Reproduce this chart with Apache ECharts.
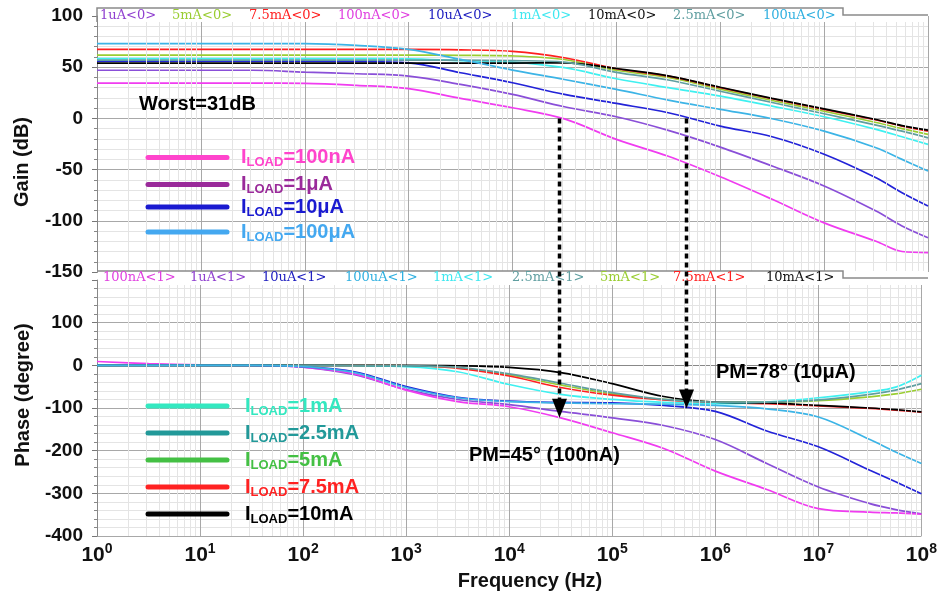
<!DOCTYPE html>
<html><head><meta charset="utf-8">
<script src="https://cdn.jsdelivr.net/npm/echarts@6/dist/echarts.min.js"></script>
<style>html,body{margin:0;padding:0;background:#fff}#c{width:940px;height:599px}</style>
</head><body><div id="c"></div>
<script>
// Frequency points (Hz)
const freqs = [1, 3.16, 10, 31.6, 100, 316, 1000, 3160, 1e4, 3.16e4, 1e5, 3.16e5, 1e6, 3.16e6, 1e7, 3.16e7, 5.62e7, 1e8];
// Gain (dB)
const gain100nA = [34.5,34.5,34.5,34.5,34.3,32.3,29,19.5,10.4,-0.5,-20.5,-37,-57,-79,-102,-120,-130,-131];
const gain1uA   = [47,47,47,47,45.2,43.6,41.3,33.2,23.4,11.4,1.6,-11.7,-28,-46.5,-66,-90.5,-105,-116.5];
const gain10uA  = [56,56,56,56,56,55.7,54.3,44.6,34.8,23.4,14.6,5.5,-7.5,-17.9,-35,-58,-72.6,-85.6];
const gain100uA = [73,73,73,73,73,71.3,67.4,57.6,47.2,38,28.3,17.9,8.8,-0.3,-12.4,-28.6,-40,-51.4];
const gain1mA   = [58.3,58.3,58.3,58.3,58.3,58.3,58.2,56.3,55,49.5,38.7,30,21.8,12,1.6,-10.7,-17.9,-25.4];
const gain2p5mA = [57,57,57,57,57,57,57,57,56.5,55,45,37.5,26.5,15.5,4.5,-6.5,-12.5,-19];
const gain5mA   = [61.8,61.8,61.8,61.8,61.8,61.8,61.8,61.6,61,57.5,47,40,28.5,17.5,7,-4,-10,-15.6];
const gain7p5mA = [67.4,67.4,67.4,67.4,67.4,67.4,67.4,67,65.5,59.2,48.5,41.3,30,19.2,8.8,-1.6,-7.5,-12.4];
const gain10mA  = [54,54,54,54,54,54,54,54,54,54.3,48.7,41.6,30.4,19.6,9.3,-1.1,-7,-11.5];
// Phase (degree)
const phase100nA = [9,4,1,0,-4,-20,-58,-85,-97,-123,-158,-195,-248,-291,-336,-344,-346,-349];
const phase1uA   = [1,0.5,0,0,-4,-22,-57,-80,-92,-108,-123,-141,-174,-230,-285,-324,-338,-348];
const phase10uA  = [0,0,0,0,-3,-15,-50,-75,-84,-87,-88,-94,-108,-154,-191,-246,-273,-301];
const phase100uA = [0,0,0,0,-3,-17,-52,-76,-85,-88,-90,-91,-94,-102,-121,-174,-203,-230];
const phase1mA   = [0,0,0,0,0,-1,-3,-15,-45,-68,-80,-87,-90,-86,-76,-62,-51,-23];
const phase2p5mA = [0,0,0,0,0,0,-1,-5,-20,-42,-64,-80,-86,-86,-81,-68,-58,-43];
const phase5mA   = [0,0,0,0,0,0,-1,-6,-22,-46,-67,-80,-86,-86.5,-83,-74,-67,-56];
const phase7p5mA = [0,0,0,0,0,0,-1,-7,-25,-52,-70,-81,-87,-90,-95,-101,-105,-110];
const phase10mA  = [0,0,0,0,0,0,0,-1,-5,-17,-43,-73,-86,-88,-94,-100,-104,-109];

// Axis ticks
const gainTicks = [-150, -100, -50, 0, 50, 100];
const phaseTicks = [-400, -300, -200, -100, 0, 100];
// PM arrows (frequency of 0 dB crossing, phase there)
const arrowFreq = [2.8e4, 4.67e5];
const arrowPhase = [-123, -101];

const loads = [
  {name:'1uA',   color:'#8a4fd8', gain:gain1uA,   phase:phase1uA},
  {name:'5mA',   color:'#9acd32', gain:gain5mA,   phase:phase5mA},
  {name:'7.5mA', color:'#ff2020', gain:gain7p5mA, phase:phase7p5mA},
  {name:'100nA', color:'#f03cf0', gain:gain100nA, phase:phase100nA},
  {name:'10uA',  color:'#2323d8', gain:gain10uA,  phase:phase10uA},
  {name:'1mA',   color:'#3ff0f0', gain:gain1mA,   phase:phase1mA},
  {name:'10mA',  color:'#000000', gain:gain10mA,  phase:phase10mA},
  {name:'2.5mA', color:'#5f9ea0', gain:gain2p5mA, phase:phase2p5mA},
  {name:'100uA', color:'#3cb4e6', gain:gain100uA, phase:phase100uA}
];

const topStrip = [
  ['1uA<0>',100,'#9040d0'],['5mA<0>',172,'#9acd32'],['7.5mA<0>',249,'#ff2020'],
  ['100nA<0>',338,'#e040e0'],['10uA<0>',428,'#2020c0'],['1mA<0>',511,'#40e8f0'],
  ['10mA<0>',588,'#111111'],['2.5mA<0>',673,'#5f9ea0'],['100uA<0>',763,'#30b0e0']
];
const botStrip = [
  ['100nA<1>',103,'#e040e0'],['1uA<1>',190,'#9040d0'],['10uA<1>',262,'#2020c0'],
  ['100uA<1>',345,'#30b0e0'],['1mA<1>',433,'#40e8f0'],['2.5mA<1>',512,'#5f9ea0'],
  ['5mA<1>',600,'#9acd32'],['7.5mA<1>',673,'#ff2020'],['10mA<1>',766,'#111111']
];
const legTop = [
  ['100nA','#ff44cc',157.5],['1\u03bcA','#9a2a9a',184.5],['10\u03bcA','#1a1ad0',207],['100\u03bcA','#44a8f0',232]
];
const legBot = [
  ['1mA','#33e8c0',406],['2.5mA','#229999',433],['5mA','#44c044',460],['7.5mA','#ff2222',487],['10mA','#000000',514]
];

const BOLD = 'Liberation Sans, Arial, sans-serif';
const chart = echarts.init(document.getElementById('c'), null, {renderer:'canvas'});

// minor log grid positions
const minorX = [];
for (let n = 0; n < 8; n++) for (let k = 2; k <= 9; k++) minorX.push({xAxis: k * Math.pow(10, n)});

function yAx(grid, min, max, interval, ticks) {
  return {
    type:'value', gridIndex:grid, min:min, max:max, interval:interval,
    axisLine:{show:true, lineStyle:{color:'#888', width:1}},
    axisTick:{show:true, length:5, lineStyle:{color:'#777'}},
    minorTick:{show:true, splitNumber:5, length:3, lineStyle:{color:'#888'}},
    splitLine:{show:true, lineStyle:{color:'#a8a8a8', width:1}},
    minorSplitLine:{show:true, lineStyle:{color:'#e4e4e4', width:1}},
    axisLabel:{show:true, margin:14, color:'#111', fontSize:19, fontWeight:'bold', fontFamily:BOLD,
      showMaxLabel: ticks.indexOf(max) >= 0,
      formatter: v => ticks.indexOf(v) >= 0 ? String(v) : ''}
  };
}
function xAx(grid, labels) {
  return {
    type:'log', logBase:10, gridIndex:grid, min:1, max:1e8, splitNumber:8,
    axisLine:{show:labels, lineStyle:{color:'#888'}},
    axisTick:{show:false},
    splitLine:{show:true, lineStyle:{color:'#a8a8a8', width:1}},
    axisLabel:{show:labels, margin:6, color:'#111',
      formatter: v => '{b|10}{s|' + Math.round(Math.log10(v)) + '}',
      rich:{ b:{fontSize:21, fontWeight:'bold', fontFamily:BOLD, color:'#111'},
             s:{fontSize:14, fontWeight:'bold', fontFamily:BOLD, color:'#111', padding:[0,0,13,0]} } }
  };
}

const series = [];
[0,1].forEach(g => series.push({
  type:'line', xAxisIndex:g, yAxisIndex:g, data:[], z:1, silent:true,
  markLine:{silent:true, symbol:['none','none'], label:{show:false},
    lineStyle:{color:'#e4e4e4', type:'solid', width:1}, data:minorX, animation:false}
}));
loads.forEach(l => {
  series.push({type:'line', name:l.name+'<0>', xAxisIndex:0, yAxisIndex:0, z:3,
    data: freqs.map((f,i) => [f, l.gain[i]]), smooth:0.35, showSymbol:false,
    lineStyle:{color:l.color, width:1.7}, itemStyle:{color:l.color}});
  series.push({type:'line', name:l.name+'<1>', xAxisIndex:1, yAxisIndex:1, z:3,
    data: freqs.map((f,i) => [f, l.phase[i]]), smooth:0.35, showSymbol:false,
    lineStyle:{color:l.color, width:1.7}, itemStyle:{color:l.color}});
});

chart.setOption({
  animation:false,
  backgroundColor:'#fff',
  grid:[{left:97, width:831, top:16, height:256}, {left:97, width:831, top:280, height:256}],
  xAxis:[xAx(0,false), xAx(1,true)],
  yAxis:[yAx(0,-150,100,50,gainTicks), yAx(1,-400,200,100,phaseTicks)],
  series: series
});

const G = [];
// strips
G.push({type:'rect', shape:{x:98, y:9, width:830, height:13}, style:{fill:'#fff'}, z:50});
G.push({type:'polyline', shape:{points:[[97,22],[97,8],[843,8],[843,15],[928,15]]}, style:{stroke:'#8a8a8a', lineWidth:1.5, fill:null}, z:51});
G.push({type:'rect', shape:{x:98, y:271, width:830, height:14}, style:{fill:'#fff'}, z:50});
G.push({type:'polyline', shape:{points:[[97,271],[843,271],[843,278],[928,278]]}, style:{stroke:'#8a8a8a', lineWidth:1.5, fill:null}, z:51});
const STRIPFONT = '13px "DejaVu Serif", serif';
topStrip.forEach(s => G.push({type:'text', x:s[1], y:16, z:52, style:{text:s[0], fill:s[2], font:STRIPFONT, textVerticalAlign:'middle'}}));
botStrip.forEach(s => G.push({type:'text', x:s[1], y:278, z:52, style:{text:s[0], fill:s[2], font:STRIPFONT, textVerticalAlign:'middle'}}));
// legends
function legend(arr, tx) {
  arr.forEach(r => {
    G.push({type:'line', z:40, shape:{x1:148, y1:r[2], x2:227, y2:r[2]}, style:{stroke:r[1], lineWidth:5, lineCap:'round'}});
    G.push({type:'text', z:40, x:tx, y:r[2], style:{
      text:'{a|I}{s|LOAD}{a|=' + r[0] + '}', textVerticalAlign:'middle',
      rich:{a:{fontSize:20, fontWeight:'bold', fontFamily:BOLD, fill:r[1]},
            s:{fontSize:13, fontWeight:'bold', fontFamily:BOLD, fill:r[1], padding:[10,0,0,0]}}}});
  });
}
legend(legTop, 241);
legend(legBot, 245);
// annotations
G.push({type:'text', z:40, x:139, y:104, style:{text:'Worst=31dB', font:'bold 20px ' + BOLD, fill:'#000', textVerticalAlign:'middle'}});
G.push({type:'text', z:40, x:716, y:372, style:{text:'PM=78\u00b0 (10\u03bcA)', font:'bold 20px ' + BOLD, fill:'#000', textVerticalAlign:'middle'}});
G.push({type:'text', z:40, x:469, y:455, style:{text:'PM=45\u00b0 (100nA)', font:'bold 20px ' + BOLD, fill:'#000', textVerticalAlign:'middle'}});
// axis names
G.push({type:'text', z:40, x:22, y:162, rotation:Math.PI/2, style:{text:'Gain (dB)', font:'bold 20px ' + BOLD, fill:'#111', textAlign:'center', textVerticalAlign:'middle'}});
G.push({type:'text', z:40, x:23, y:395, rotation:Math.PI/2, style:{text:'Phase (degree)', font:'bold 20px ' + BOLD, fill:'#111', textAlign:'center', textVerticalAlign:'middle'}});
G.push({type:'text', z:40, x:530, y:581, style:{text:'Frequency (Hz)', font:'bold 20px ' + BOLD, fill:'#111', textAlign:'center', textVerticalAlign:'middle'}});
// arrows
arrowFreq.forEach((f,i) => {
  const p0 = chart.convertToPixel({gridIndex:0}, [f, 0]);
  const p1 = chart.convertToPixel({gridIndex:1}, [f, arrowPhase[i]]);
  const x = Math.round(p0[0]) + 0.5;
  G.push({type:'line', z:60, shape:{x1:x, y1:p0[1], x2:x, y2:p1[1]-16}, style:{stroke:'#000', lineWidth:3.5, lineDash:[5,4]}});
  G.push({type:'polygon', z:60, shape:{points:[[x-7.5,p1[1]-19],[x+7.5,p1[1]-19],[x,p1[1]]]}, style:{fill:'#000'}});
});
chart.setOption({graphic: G});
</script></body></html>
